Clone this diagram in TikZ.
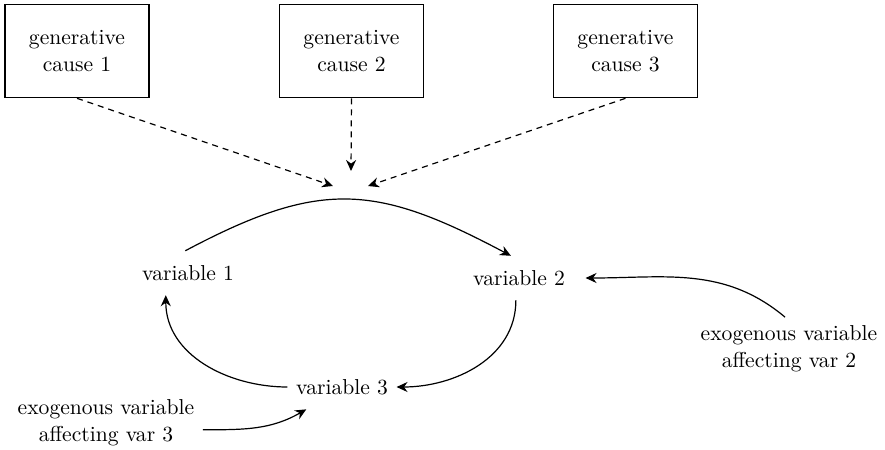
\documentclass[tikz,border=0pt]{standalone}
\usetikzlibrary{arrows.meta}

\begin{document}
\begin{tikzpicture}[x=0.5pt,y=-0.5pt,->,>={Stealth[length=5.5pt,width=5pt]},line width=0.6pt,
font=\fontsize{10.8}{13.5}\selectfont,
cause box/.style={rectangle,draw,-,line width=0.8pt,align=center,minimum width=72pt,minimum height=46.5pt},
var node/.style={inner xsep=4pt,inner ysep=7pt},
exo node/.style={align=center,inner sep=4pt},
cause link/.style={dash pattern=on 3pt off 2.5pt}]
\useasboundingbox (0,0) rectangle (885,450);
\node[cause box] (c1) at (77,51) {generative\\cause 1};
\node[cause box] (c2) at (351.5,51) {generative\\cause 2};
\node[cause box] (c3) at (625.5,51) {generative\\cause 3};
\node[var node] (v1) at (188,273) {variable 1};
\node[var node] (v2) at (519,278) {variable 2};
\node[var node] (v3) at (342,387) {variable 3};
\node[exo node] (e2) at (789,349) {exogenous variable\\affecting var 2};
\node[exo node] (e3) at (106,423) {exogenous variable\\affecting var 3};
\coordinate (t1) at (333,186);
\coordinate (t2) at (351,171);
\coordinate (t3) at (368,186);
%dashed links from the causes
\draw[cause link] (c1.south) -- (t1);
\draw[cause link] (c2.south) -- (t2);
\draw[cause link] (c3.south) -- (t3);
%the loop
\draw (v1.97) to[out=28,in=152,looseness=1.2] (v2.110);
\draw (v2.-98) to[out=-90,in=0] (v3.east);
\draw (v3.west) to[out=180,in=-90] (v1.-135);
%exogenous inputs
\draw (e2.97) to[out=140,in=0] ([xshift=6pt]v2.east);
\draw (e3.-4) to[out=0,in=-150] (v3.-148);
\end{tikzpicture}
\end{document}
